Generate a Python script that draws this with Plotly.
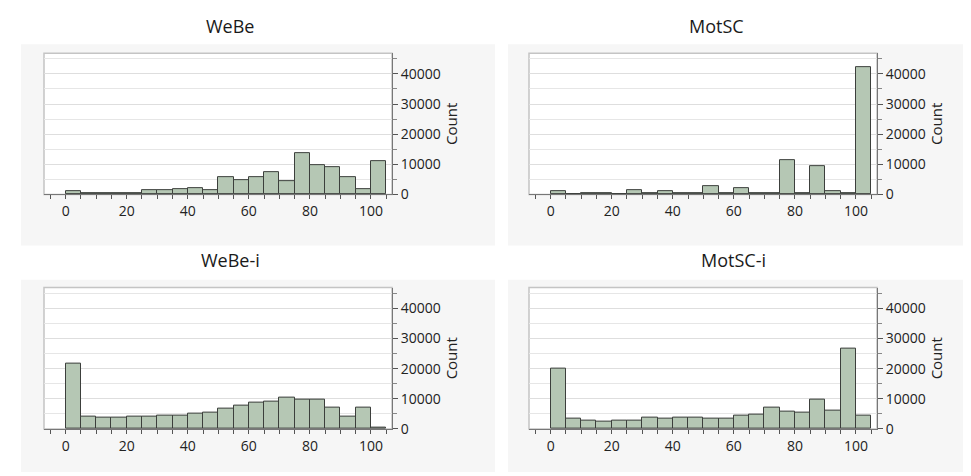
import plotly.graph_objects as go

# ---- data ----
bin_left = [0, 5, 10, 15, 20, 25, 30, 35, 40, 45, 50, 55, 60, 65, 70, 75, 80, 85, 90, 95, 100]
bin_width = 5

webe = [1100, 400, 400, 400, 400, 1400, 1400, 1800, 2200, 1500, 5600, 4700, 5900, 7300, 4300,
        13700, 9600, 8900, 5600, 1700, 11100]
motsc = [1100, 0, 400, 400, 0, 1400, 400, 1100, 400, 400, 2900, 400, 2100, 400, 400,
         11400, 400, 9500, 1100, 400, 42400]
webe_i = [21700, 4100, 3600, 3600, 4200, 4200, 4500, 4500, 5000, 5400, 6600, 7600, 8700, 9000,
          10300, 9600, 9600, 7000, 4100, 7000, 400]
motsc_i = [20100, 3300, 2900, 2500, 2900, 2900, 3700, 3300, 3700, 3700, 3300, 3300, 4300, 4700,
           7200, 5900, 5400, 9800, 6200, 26500, 4300]

panel_titles = ["WeBe", "MotSC", "WeBe-i", "MotSC-i"]
series = [webe, motsc, webe_i, motsc_i]
x_ticks = [0, 20, 40, 60, 80, 100]
y_ticks = [0, 10000, 20000, 30000, 40000]

W, H = 971, 476
FONT = "Open Sans"
BAR_FILL = "#b5c7b4"
BAR_LINE = "#3c3f3c"

# plot-area pixel boxes (x0, x1, ytop, ybottom)
boxes = [(36, 384, 46, 190), (521, 869, 46, 190), (36, 384, 285, 429), (521, 869, 285, 429)]
panels_bg = [(13, 487, 37, 242), (500, 971, 37, 242), (13, 487, 277, 473), (500, 971, 277, 473)]
title_pos = [(222, 18), (708, 18), (222, 257), (725, 257)]

fig = go.Figure()
shapes = []
annotations = []

for i, (vals, title) in enumerate(zip(series, panel_titles)):
    n = "" if i == 0 else str(i + 1)
    xa, ya = "x" + n, "y" + n
    fig.add_trace(go.Bar(
        x=bin_left, y=vals, offset=0, width=bin_width,
        marker=dict(color=BAR_FILL, line=dict(color=BAR_LINE, width=1)),
        xaxis=xa, yaxis=ya, showlegend=False, hoverinfo="x+y",
    ))
    x0, x1, yt, yb = boxes[i]
    dom_x = [x0 / W, x1 / W]
    dom_y = [1 - yb / H, 1 - yt / H]
    fig.layout["xaxis" + n] = dict(
        domain=dom_x, range=[-7.1, 106.9], anchor=ya,
        tickvals=x_ticks, ticks="outside", ticklen=4, tickcolor="#555",
        showline=True, linecolor="#777", linewidth=1,
        showgrid=False, zeroline=False,
        minor=dict(dtick=5, tick0=0, ticks="outside", ticklen=4, tickcolor="#555", showgrid=False),
        tickfont=dict(family=FONT, size=14, color="#222"),
    )
    fig.layout["yaxis" + n] = dict(
        domain=dom_y, range=[0, 46900], anchor=xa, side="right",
        tickvals=y_ticks, tickformat="d", ticks="outside", ticklen=5, tickcolor="#555",
        showline=True, linecolor="#777", linewidth=1,
        showgrid=True, gridcolor="#dedede", gridwidth=1, zeroline=False,
        minor=dict(dtick=5000, tick0=0, ticks="outside", ticklen=4, tickcolor="#888",
                   showgrid=True, gridcolor="#e6e6e6"),
        tickfont=dict(family=FONT, size=14, color="#222"),
        title=dict(text="Count", standoff=6, font=dict(family=FONT, size=15, color="#222")),
    )
    # panel grey background
    px0, px1, pyt, pyb = panels_bg[i]
    shapes.append(dict(type="rect", xref="paper", yref="paper",
                       x0=px0 / W, x1=px1 / W, y0=1 - pyb / H, y1=1 - pyt / H,
                       fillcolor="#f6f6f6", line=dict(width=0), layer="below"))
    # white plot frame with light grey border (left/top)
    shapes.append(dict(type="rect", xref="paper", yref="paper",
                       x0=dom_x[0], x1=dom_x[1], y0=dom_y[0], y1=dom_y[1],
                       fillcolor="white", line=dict(color="#c4c4c4", width=1.5), layer="below"))
    tx, ty = title_pos[i]
    annotations.append(dict(text=title, xref="paper", yref="paper", x=tx / W, y=1 - ty / H,
                            xanchor="center", yanchor="middle", showarrow=False,
                            font=dict(family=FONT, size=18, color="#1a1a1a")))

fig.update_layout(
    width=W, height=H, margin=dict(l=0, r=0, t=0, b=0),
    paper_bgcolor="white", plot_bgcolor="rgba(0,0,0,0)",
    bargap=0, shapes=shapes, annotations=annotations,
    font=dict(family=FONT),
)

fig.write_html("out.html")
